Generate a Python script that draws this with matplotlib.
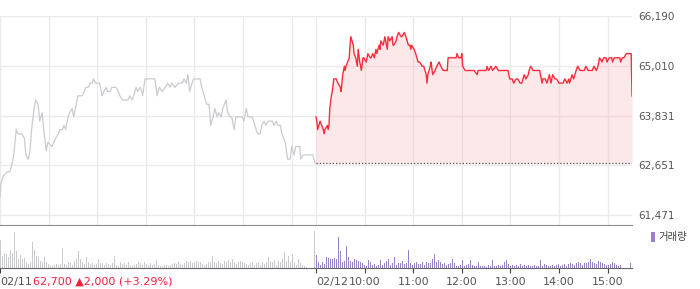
import matplotlib
matplotlib.use("Agg")
import matplotlib.pyplot as plt
import numpy as np
from matplotlib.patches import Patch

plt.rcParams['font.family'] = ['DejaVu Sans', 'Noto Sans CJK KR']

# --- data (minutes after 09:00, price in KRW) ---
day1_min = [0, 1, 4, 9, 12, 15, 17, 20, 22, 27,
            30, 32, 35, 37, 39, 42, 44, 47, 49, 52,
            54, 57, 59, 64, 69, 72, 74, 77, 79, 81,
            84, 86, 89, 91, 94, 96, 99, 101, 104, 106,
            109, 111, 114, 115, 118, 123, 126, 128, 131, 133,
            136, 138, 141, 143, 146, 148, 151, 153, 155, 158,
            160, 163, 165, 168, 170, 173, 175, 176, 179, 185,
            191, 194, 195, 197, 200, 204, 207, 210, 212, 216,
            220, 222, 225, 227, 230, 232, 234, 237, 239, 242,
            244, 247, 249, 252, 255, 258, 260, 263, 265, 268,
            270, 273, 275, 279, 281, 284, 286, 289, 291, 294,
            299, 301, 304, 306, 309, 311, 313, 316, 318, 321,
            323, 326, 328, 331, 333, 336, 338, 341, 343, 346,
            348, 352, 355, 358, 360, 363, 365, 368, 370, 371,
            374, 380, 386, 389]
day1_price = [61900, 62200, 62400, 62500, 62500, 62700, 62900, 63500, 63400, 63400,
              63300, 62900, 62800, 63000, 63500, 64000, 64200, 64100, 63700, 63900,
              63500, 63000, 63200, 63100, 63300, 63400, 63500, 63500, 63600, 63500,
              63800, 63900, 64000, 63800, 64100, 64300, 64300, 64300, 64400, 64500,
              64500, 64600, 64600, 64700, 64600, 64600, 64300, 64400, 64500, 64400,
              64400, 64500, 64500, 64500, 64400, 64300, 64200, 64200, 64200, 64200,
              64300, 64200, 64300, 64500, 64400, 64500, 64400, 64300, 64700, 64700,
              64700, 64300, 64400, 64500, 64400, 64500, 64600, 64500, 64600, 64500,
              64600, 64600, 64600, 64700, 64600, 64800, 64400, 64600, 64700, 64700,
              64700, 64700, 64500, 64300, 64100, 64100, 63600, 63800, 64000, 63800,
              63900, 63800, 64000, 64200, 63900, 63800, 63800, 63500, 63800, 63800,
              63800, 63700, 64000, 63800, 63800, 63800, 63700, 63500, 63400, 63400,
              63600, 63700, 63600, 63700, 63700, 63700, 63600, 63700, 63600, 63600,
              63400, 63200, 62800, 62800, 63100, 62900, 63100, 63100, 63100, 62800,
              62900, 62900, 62900, 62700]

day2_min = [0, 1, 2, 5, 7, 9, 10, 11, 14, 15,
            16, 17, 19, 20, 22, 25, 27, 30, 31, 33,
            35, 36, 37, 39, 41, 42, 43, 46, 47, 49,
            51, 52, 54, 56, 58, 59, 62, 64, 67, 68,
            70, 72, 74, 75, 78, 79, 80, 83, 84, 85,
            86, 88, 89, 91, 94, 95, 96, 99, 100, 102,
            105, 106, 109, 111, 114, 116, 117, 118, 121, 123,
            126, 128, 131, 133, 136, 137, 138, 141, 142, 144,
            147, 149, 152, 154, 157, 160, 162, 163, 165, 168,
            170, 173, 174, 176, 179, 180, 181, 184, 188, 190,
            193, 195, 199, 200, 202, 205, 207, 210, 211, 213,
            216, 218, 222, 225, 227, 231, 237, 239, 242, 244,
            247, 249, 252, 254, 257, 259, 262, 263, 265, 268,
            270, 274, 276, 279, 280, 283, 285, 288, 290, 292,
            295, 297, 300, 302, 305, 307, 310, 312, 313, 316,
            318, 321, 323, 326, 328, 331, 333, 336, 338, 341,
            343, 346, 348, 350, 353, 355, 358, 359, 362, 363,
            365, 366, 368, 370, 373, 375, 376, 378, 380, 383,
            385, 388, 389, 390]
day2_price = [63800, 63700, 63500, 63700, 63600, 63500, 63400, 63500, 63600, 63500,
              63600, 64000, 64300, 64400, 64700, 64700, 64600, 64500, 64400, 64800,
              65000, 64900, 65000, 65100, 65200, 65500, 65700, 65500, 65300, 65200,
              65000, 65400, 65100, 64900, 65200, 65200, 65100, 65300, 65200, 65200,
              65300, 65200, 65400, 65300, 65500, 65400, 65600, 65500, 65600, 65700,
              65600, 65400, 65700, 65600, 65700, 65500, 65500, 65600, 65700, 65800,
              65700, 65700, 65800, 65700, 65500, 65500, 65400, 65500, 65400, 65300,
              65100, 65100, 65000, 65000, 64800, 64600, 64800, 65000, 65100, 64800,
              64900, 65000, 65100, 65000, 64900, 64900, 64900, 65200, 65200, 65200,
              65200, 65200, 65300, 65200, 65200, 65300, 65000, 64900, 64900, 64900,
              64900, 64900, 64800, 64900, 64900, 64900, 64900, 64900, 65000, 64900,
              65000, 64900, 65000, 64900, 64900, 64900, 64900, 64700, 64700, 64600,
              64700, 64700, 64600, 64600, 64800, 64700, 64800, 64900, 65000, 64900,
              64900, 64900, 64900, 64600, 64700, 64700, 64600, 64800, 64600, 64800,
              64700, 64700, 64600, 64600, 64600, 64700, 64600, 64700, 64600, 64800,
              64700, 64900, 65000, 64900, 64900, 64900, 65000, 64900, 64900, 64900,
              65000, 64900, 65000, 65200, 65100, 65200, 65200, 65100, 65200, 65200,
              65200, 65100, 65200, 65200, 65200, 65200, 65100, 65200, 65200, 65300,
              65300, 65300, 65300, 64300]

# volume (thousand shares) per ~2.5 min bucket, whole session
vol_day1 = [28, 12, 15, 14, 11, 18, 15, 36, 17, 9,
            13, 9, 10, 6, 4, 6, 26, 18, 12, 11,
            7, 6, 11, 6, 4, 3, 2, 3, 4, 3,
            4, 20, 4, 3, 6, 5, 3, 7, 9, 17,
            9, 6, 4, 11, 6, 4, 5, 3, 4, 9,
            5, 5, 3, 5, 4, 3, 5, 12, 3, 2,
            6, 4, 5, 3, 6, 3, 2, 3, 4, 6,
            5, 3, 6, 4, 3, 5, 3, 4, 8, 3,
            2, 2, 3, 3, 2, 3, 4, 5, 4, 6,
            4, 3, 5, 7, 6, 7, 5, 6, 7, 6,
            6, 4, 3, 4, 6, 6, 12, 6, 5, 7,
            5, 4, 7, 6, 8, 6, 9, 6, 4, 6,
            7, 6, 5, 4, 3, 5, 6, 3, 5, 6,
            3, 6, 4, 6, 11, 7, 6, 8, 3, 7,
            6, 9, 16, 7, 12, 6, 14, 5, 3, 9,
            5, 3, 2, 1, 0, 0, 0, 37]
vol_day2 = [13, 6, 3, 6, 4, 11, 10, 9, 9, 10,
            9, 31, 17, 6, 7, 22, 11, 7, 6, 9,
            8, 7, 6, 5, 3, 2, 8, 6, 3, 4,
            2, 3, 8, 3, 5, 7, 9, 3, 5, 11,
            3, 5, 5, 7, 4, 5, 18, 5, 3, 5,
            6, 4, 4, 6, 3, 6, 5, 5, 9, 14,
            6, 8, 6, 4, 5, 3, 4, 5, 9, 5,
            2, 2, 3, 8, 2, 3, 4, 8, 3, 2,
            2, 6, 2, 2, 2, 1, 3, 2, 8, 2,
            2, 3, 2, 3, 6, 8, 4, 2, 3, 2,
            3, 2, 4, 2, 3, 2, 3, 2, 2, 3,
            2, 2, 8, 2, 4, 3, 2, 2, 3, 2,
            3, 4, 2, 3, 4, 2, 4, 5, 4, 3,
            5, 6, 5, 3, 5, 5, 6, 9, 6, 5,
            4, 7, 6, 5, 4, 3, 3, 4, 6, 5,
            3, 2, 3, 0, 0, 0, 0, 5]

prev_close = 62700
price_ticks = [61471, 62651, 63831, 65010, 66190]
day_labels = ["02/11", "02/12"]
hour_labels = ["10:00", "11:00", "12:00", "13:00", "14:00", "15:00"]
info_text = "62,700 \u25b22,000 (+3.29%)"
session = 390

W, H = 700, 289
fig = plt.figure(figsize=(W / 100, H / 100), dpi=100)
ax = fig.add_axes([0, 1 - 225 / H, 632 / W, 209 / H])
axv = fig.add_axes([0, 1 - 268 / H, 632 / W, 42 / H])

grid_c = "#ebebeb"
hours = np.arange(0, session, 60)
grid_x = list(hours) + [session] + list(session + hours[1:])

# price panel
ax.set_xlim(0, 2 * session)
ax.set_ylim(61240, 66190)
ax.set_xticks(grid_x)
ax.set_yticks(price_ticks)
ax.set_yticklabels([f"{v:,}" for v in price_ticks])
ax.yaxis.tick_right()
ax.tick_params(axis="x", length=0, labelbottom=False)
ax.tick_params(axis="y", length=0, pad=4.5, labelsize=7.5, labelcolor="#555555")
ax.grid(True, color=grid_c, lw=1)
ax.set_axisbelow(True)
for s in ["top", "left", "right"]:
    ax.spines[s].set_visible(False)
ax.spines["bottom"].set_color("#8a8a8a")

ax.plot(day1_min, day1_price, color="#c9cbcf", lw=0.9)
x2 = session + np.array(day2_min)
ax.fill_between(x2, day2_price, prev_close, color="#f7a9b1", alpha=0.28, lw=0)
ax.hlines(prev_close, session, 2 * session, colors="#555555",
          linestyles=(0, (1, 1.6)), lw=0.9)
ax.plot(x2, day2_price, color="#ff2b3d", lw=1)

# volume panel
for offset, vol, col in [(0, vol_day1, "#c8cace"), (session, vol_day2, "#9a80c6")]:
    n = len(vol)
    step = session / n
    axv.bar(offset + np.arange(n) * step, vol, width=step * 0.7,
            align="edge", color=col, lw=0)

axv.set_xlim(0, 2 * session)
axv.set_ylim(0, 42)
axv.set_yticks([])
axv.set_xticks([0, session] + list(session + hours[1:]))
axv.set_xticklabels(day_labels + hour_labels)
for lab in axv.get_xticklabels()[:2]:
    lab.set_ha("left")
axv.tick_params(axis="x", length=3.5, color="#444444", labelsize=8,
                labelcolor="#555555", pad=3)
for s in ["top", "left", "right"]:
    axv.spines[s].set_visible(False)
axv.spines["bottom"].set_color("#666666")

axv.annotate(info_text, xy=(0, 0), xycoords=("data", "axes fraction"),
             xytext=(24, -10), textcoords="offset points",
             color="#f0213a", fontsize=8, va="center", ha="left")

fig.legend(handles=[Patch(facecolor="#9a80c6", lw=0)], labels=["거래량"],
           loc="center left", bbox_to_anchor=(651 / W, 1 - 237 / H),
           frameon=False, handlelength=0.35, handleheight=1.1,
           handletextpad=0.35, fontsize=7.5, borderpad=0, borderaxespad=0,
           labelcolor="#444444")

fig.savefig("out.png", dpi=100)
